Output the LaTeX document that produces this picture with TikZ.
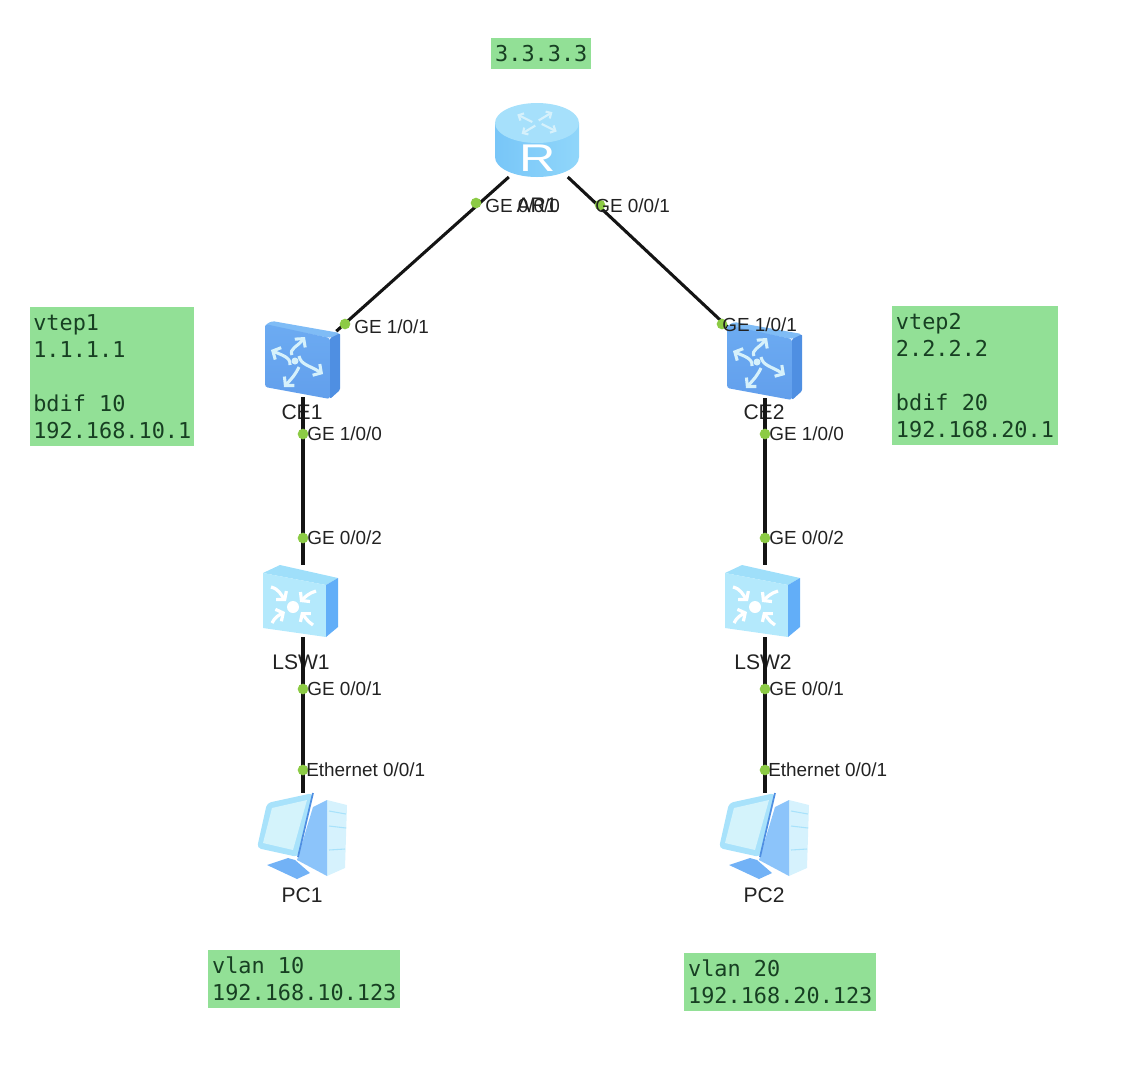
\documentclass[tikz,border=0pt]{standalone}
\usepackage{fontspec}
\setmainfont{Liberation Sans}
\newfontfamily\monof{DejaVu Sans Mono}
\usetikzlibrary{arrows.meta}
\definecolor{notegreen}{HTML}{92E096}
\definecolor{notetext}{HTML}{173F22}
\definecolor{portgreen}{HTML}{8CCB45}
\definecolor{lab}{HTML}{222222}
\definecolor{rtop}{HTML}{A6E0FB}
\definecolor{rbodyl}{HTML}{78C6F8}
\definecolor{rbodyr}{HTML}{90D6FA}
\definecolor{cefront}{HTML}{6CABF2}
\definecolor{cefrontb}{HTML}{629FEC}
\definecolor{ceside}{HTML}{4F8FE2}
\definecolor{cetop}{HTML}{7FBCF6}
\definecolor{paleline}{HTML}{D6F1FB}
\definecolor{lfront}{HTML}{B4E9FC}
\definecolor{ltop}{HTML}{9FDFFA}
\definecolor{lside}{HTML}{62AEF8}
\definecolor{pcblue}{HTML}{8CC4FA}
\definecolor{pclight}{HTML}{D6F2FD}
\definecolor{pcmon}{HTML}{A8E2FB}
\definecolor{pcscreen}{HTML}{D4F3FB}
\definecolor{pcstand}{HTML}{72B2F6}
\tikzset{
  note/.style={fill=notegreen,anchor=north west,inner xsep=0.1pt,inner ysep=2pt,align=left,text=notetext,
    font=\monof\fontsize{16.4}{20.25}\selectfont},
  dev/.style={inner sep=0pt,outer sep=0pt},
  link/.style={line width=2.3pt,draw=black!92},
  port/.style={circle,fill=portgreen,inner sep=0pt,minimum size=8pt},
  plabel/.style={anchor=west,inner sep=0pt,text=lab,font=\fontsize{14.2}{16}\selectfont},
  dlabel/.style={inner sep=0pt,text=lab,font=\fontsize{15.8}{18}\selectfont},
  wa/.style={draw=paleline,line width=2.3pt,-{Straight Barb[length=4.5pt,width=10pt,line width=2.3pt]}},
  wb/.style={draw=white,line width=2.4pt,-{Straight Barb[length=4pt,width=10pt,line width=2.4pt]}},
  routericon/.pic={
    \shade[left color=rbodyl,right color=rbodyr]
      (-44,-27) -- (-44,7) arc[start angle=180,end angle=0,x radius=42,y radius=20] -- (40,-27) -- cycle;
    \fill[rtop] (-2,-27) ellipse[x radius=42,y radius=20];
    \foreach \a in {20,110,200,290}{
      \draw[paleline,line width=1.6pt,-{Straight Barb[length=3pt,width=6pt,line width=1.6pt]},shift={(-2,-27)},yscale=0.55]
        (\a:5) -- (\a+18:25);}
    \node[inner sep=0pt,text=white,xscale=1.3,font=\fontsize{29}{30}\selectfont] at (-1,8) {R};
  },
  ceicon/.pic={
    \fill[cetop,rounded corners=2pt] (-38,-36) -- (-31,-40) -- (37,-28) -- (27,-23) -- cycle;
    \shade[top color=cefront,bottom color=cefrontb,rounded corners=2pt]
      (-38,-37) -- (27,-23) -- (27,38) -- (-38,26) -- cycle;
    \fill[ceside,rounded corners=1pt] (27,-23) -- (37,-28) -- (37,29) -- (27,38) -- cycle;
    \draw[wa] (-11,-6) .. controls (-14,-12) and (-6,-14) .. (2,-24);
    \draw[wa] (-4,-5) .. controls (-2,4) and (6,4) .. (20,13);
    \draw[wa] (-4,6) .. controls (-8,14) and (-10,16) .. (-19,26);
    \draw[wa] (-13,4) .. controls (-12,-4) and (-22,-6) .. (-32,-11);
    \fill[paleline] (-8,0) circle[radius=3.5];
  },
  lswicon/.pic={
    \fill[ltop] (-40,-28) -- (-23,-36) -- (35,-23) -- (23,-16) -- cycle;
    \fill[lfront] (-40,-28) -- (23,-16) -- (23,36) -- (-40,27) -- cycle;
    \fill[lside] (23,-16) -- (35,-23) -- (35,26) -- (23,36) -- cycle;
    \draw[wb] (-32,-14) .. controls (-24,-12) and (-22,-6) .. (-17,0);
    \draw[wb] (13,-10) .. controls (6,-8) and (2,-4) .. (-3,1);
    \draw[wb] (-31,22) .. controls (-28,16) and (-24,14) .. (-18,11);
    \draw[wb] (10,24) .. controls (4,20) and (2,16) .. (-2,11);
    \fill[white] (-10,6) circle[radius=6];
  },
  pcicon/.pic={
    \fill[pcstand] (-36,29) -- (-15,22) -- (-8,24) -- (7,37) -- (-6,43) -- cycle;
    \fill[pclight] (24,-36) -- (44,-31) -- (42,32) -- (24,40) -- cycle;
    \fill[pcblue] (10,-29) -- (24,-36) -- (24,40) -- (-6,24) -- cycle;
    \draw[pcmon,line width=0.8pt] (26,-25) -- (43,-22) (26,-10) -- (43,-8) (26,14) -- (42,13);
    \fill[pcmon,rounded corners=3pt] (-36,-33) -- (10,-43) -- (-5,21) -- (-46,12) -- cycle;
    \draw[ceside,line width=1.3pt] (10,-43) -- (-5,21);
    \fill[pcscreen] (-31,-28) -- (4,-36) -- (-10,14) -- (-40,7) -- cycle;
  },
}
\begin{document}
\begin{tikzpicture}[x=0.75pt,y=-0.75pt]
\useasboundingbox (0,0) rectangle (1146,1090);
% notes
\node[note,minimum width=75pt,minimum height=23pt,inner xsep=2.2pt] (n3) at (491,38) {3.3.3.3};
\node[note,minimum width=123pt,minimum height=104pt] (nv1) at (30,307) {vtep1\\1.1.1.1\\ \\bdif 10\\192.168.10.1};
\node[note,minimum width=124pt,minimum height=104pt] (nv2) at (892,306) {vtep2\\2.2.2.2\\ \\bdif 20\\192.168.20.1};
\node[note,minimum width=144pt,minimum height=43pt] (nl1) at (208,950) {vlan 10\\192.168.10.123};
\node[note,minimum width=144pt,minimum height=43pt] (nl2) at (684,953) {vlan 20\\192.168.20.123};
% device labels under links
\node[dlabel] (lAR) at (537,205) {AR1};
\node[dlabel] (lCE1) at (302,412) {CE1};
\node[dlabel] (lCE2) at (764,412) {CE2};
\node[dlabel] (lL1) at (301,662) {LSW1};
\node[dlabel] (lL2) at (763,662) {LSW2};
\node[dlabel] (lP1) at (302,895) {PC1};
\node[dlabel] (lP2) at (764,895) {PC2};
% device anchors
\node[dev,minimum width=52pt,minimum height=40.5pt] (AR1) at (539,150) {};
\node[dev,minimum width=50pt,minimum height=54pt] (CE1) at (303,361) {};
\node[dev,minimum width=50pt,minimum height=54pt] (CE2) at (765,362) {};
\node[dev,minimum width=50pt,minimum height=54pt] (LSW1) at (303,601) {};
\node[dev,minimum width=50pt,minimum height=54pt] (LSW2) at (765,601) {};
\node[dev,minimum width=50pt,minimum height=64pt] (PC1) at (303,836) {};
\node[dev,minimum width=50pt,minimum height=64pt] (PC2) at (765,836) {};
% links
\draw[link] (AR1) -- (CE1);
\draw[link] (AR1) -- (CE2);
\draw[link] (CE1) -- (LSW1);
\draw[link] (LSW1) -- (PC1);
\draw[link] (CE2) -- (LSW2);
\draw[link] (LSW2) -- (PC2);
% icons
\pic at (AR1) {routericon};
\pic at (CE1) {ceicon};
\pic at (CE2) {ceicon};
\pic at (LSW1) {lswicon};
\pic at (LSW2) {lswicon};
\pic at (PC1) {pcicon};
\pic at (PC2) {pcicon};
% ports
\node[port] (a) at (476,203) {};
\node[port] (b) at (600,205) {};
\node[port] (c) at (345,324) {};
\node[port] (d) at (722,324) {};
\foreach \n/\x in {l/303,r/765}{
  \node[port] (p1\n) at (\x,434) {};
  \node[port] (p2\n) at (\x,538) {};
  \node[port] (p3\n) at (\x,689) {};
  \node[port] (p4\n) at (\x,770) {};
  \node[plabel] (t1\n) at (\x+4,434) {GE 1/0/0};
  \node[plabel] (t2\n) at (\x+4,538) {GE 0/0/2};
  \node[plabel] (t3\n) at (\x+4,689) {GE 0/0/1};
  \node[plabel] (t4\n) at (\x+3,770) {Ethernet 0/0/1};
}
\node[plabel] (ta) at (485,206) {GE 0/0/0};
\node[plabel] (tb) at (595,206) {GE 0/0/1};
\node[plabel] (tc) at (354,327) {GE 1/0/1};
\node[plabel] (td) at (722,325) {GE 1/0/1};
\end{tikzpicture}
\end{document}
